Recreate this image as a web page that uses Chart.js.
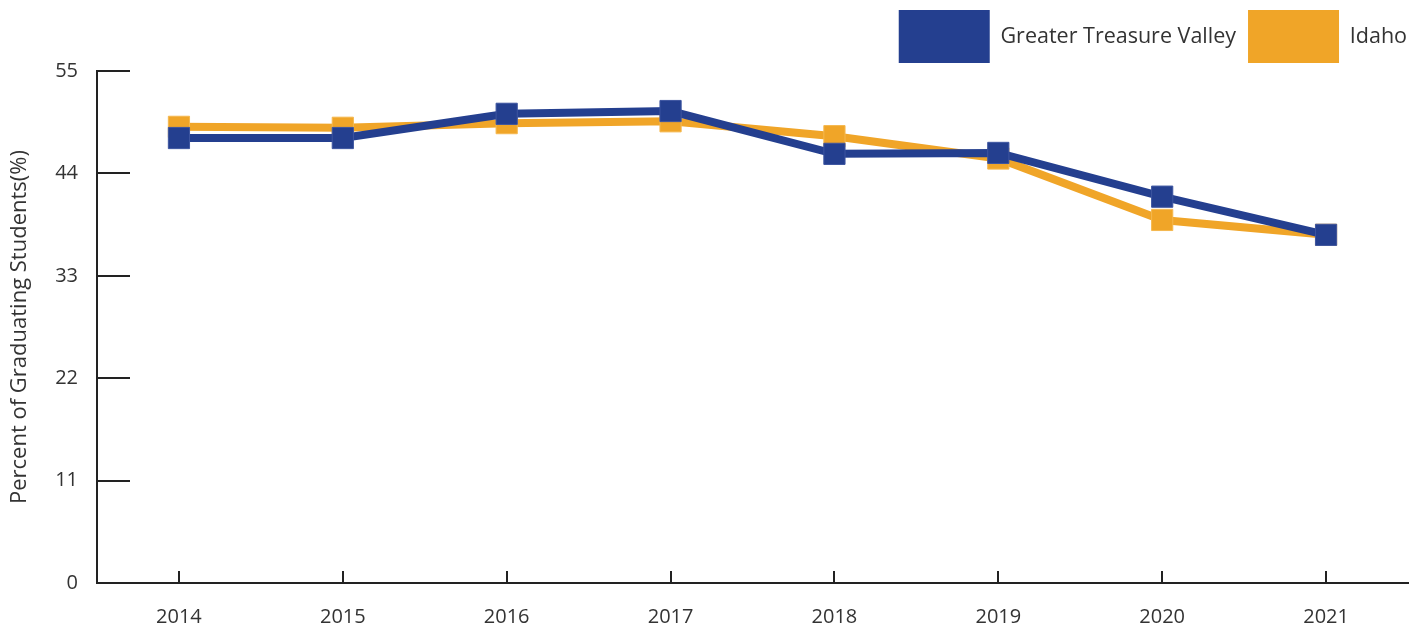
<!DOCTYPE html>
<html>
<head>
<meta charset="utf-8">
<script src="https://cdn.jsdelivr.net/npm/chart.js@4.4.1/dist/chart.umd.min.js"></script>
<style>
  html, body { margin: 0; padding: 0; background: #fff; }
  #wrap { width: 1424px; height: 633px; }
</style>
</head>
<body>
<div id="wrap"><canvas id="gradChart" width="1424" height="633"></canvas></div>
<script>
// --- data ---
const years = ['2014', '2015', '2016', '2017', '2018', '2019', '2020', '2021'];
const treasureValley = [47.8, 47.8, 50.4, 50.7, 46.1, 46.2, 41.5, 37.4];
const idaho = [49.0, 48.9, 49.4, 49.6, 48.0, 45.6, 39.0, 37.4];
const yTickValues = [0, 11, 22, 33, 44, 55];

const BLUE = '#243f8f';
const ORANGE = '#f0a528';
const AXIS = '#222222';
const TEXT = '#333333';

// legend placement tweaks + tick marks drawn inward from the axes
const innerTicks = {
    id: 'innerTicks',
    beforeLayout(chart) {
        const lg = chart.legend;
        if (lg && !lg._fixedHeight) {
            const fit = lg.fit.bind(lg);
            lg.fit = function () { fit(); this.height = 71; };
            lg._fixedHeight = true;
        }
    },
    afterLayout(chart) {
        // legend runs a little past the plot's right edge, and sits a bit higher
        chart.legend.left += 9;
        chart.legend.right += 9;
        chart.legend.top -= 2;
        chart.legend.bottom -= 2;
    },
    beforeDatasetsDraw(chart) {
        const { ctx, chartArea, scales } = chart;
        ctx.save();
        ctx.strokeStyle = AXIS;
        ctx.lineWidth = 2;
        ctx.beginPath();
        yTickValues.forEach(v => {
            const y = Math.round(scales.y.getPixelForValue(v));
            ctx.moveTo(chartArea.left, y);
            ctx.lineTo(chartArea.left + 33, y);
        });
        years.forEach((_, i) => {
            const x = Math.round(scales.x.getPixelForTick(i));
            ctx.moveTo(x, chartArea.bottom);
            ctx.lineTo(x, chartArea.bottom - 12);
        });
        ctx.stroke();
        ctx.restore();
    }
};

new Chart(document.getElementById('gradChart').getContext('2d'), {
    type: 'line',
    data: {
        labels: years,
        datasets: [
            {
                label: 'Greater Treasure Valley',
                data: treasureValley,
                borderColor: BLUE,
                backgroundColor: BLUE,
                borderWidth: 8,
                pointStyle: 'rect',
                pointRadius: 15,
                pointBorderWidth: 1,
                pointBorderColor: '#3d55a0',
                pointBackgroundColor: BLUE,
                tension: 0
            },
            {
                label: 'Idaho',
                data: idaho,
                borderColor: ORANGE,
                backgroundColor: ORANGE,
                borderWidth: 8,
                pointStyle: 'rect',
                pointRadius: 15,
                pointBorderWidth: 1,
                pointBorderColor: '#f5b84f',
                pointBackgroundColor: ORANGE,
                tension: 0
            }
        ]
    },
    options: {
        responsive: false,
        animation: false,
        layout: { padding: { left: 0, right: 14, top: 0, bottom: 0 } },
        plugins: {
            tooltip: { enabled: false },
            legend: {
                position: 'top',
                align: 'end',
                labels: {
                    boxWidth: 91,
                    boxHeight: 53,
                    padding: 12,
                    color: TEXT,
                    font: { family: 'Open Sans', size: 21.5 },
                    generateLabels: (chart) => chart.data.datasets.map((ds, i) => ({
                        text: ds.label,
                        fillStyle: ds.borderColor,
                        strokeStyle: ds.borderColor,
                        lineWidth: 0,
                        fontColor: TEXT,
                        hidden: false,
                        datasetIndex: i
                    }))
                }
            }
        },
        scales: {
            x: {
                offset: true,
                grid: { display: false, drawTicks: false },
                border: { display: true, color: AXIS, width: 2 },
                ticks: {
                    color: TEXT,
                    padding: 22,
                    font: { family: 'Open Sans', size: 20 }
                },
                afterFit: (scale) => { scale.height = 50; }
            },
            y: {
                min: 0,
                max: 55,
                afterBuildTicks: (scale) => { scale.ticks = yTickValues.map(v => ({ value: v })); },
                grid: { display: false, drawTicks: false },
                border: { display: true, color: AXIS, width: 2 },
                ticks: {
                    color: TEXT,
                    padding: 19,
                    font: { family: 'Open Sans', size: 20 }
                },
                title: {
                    display: true,
                    text: 'Percent of Graduating Students(%)',
                    color: TEXT,
                    padding: { top: 7, bottom: 0 },
                    font: { family: 'Open Sans', size: 22 }
                },
                afterFit: (scale) => { scale.width = 97; }
            }
        }
    },
    plugins: [innerTicks]
});
</script>
</body>
</html>
